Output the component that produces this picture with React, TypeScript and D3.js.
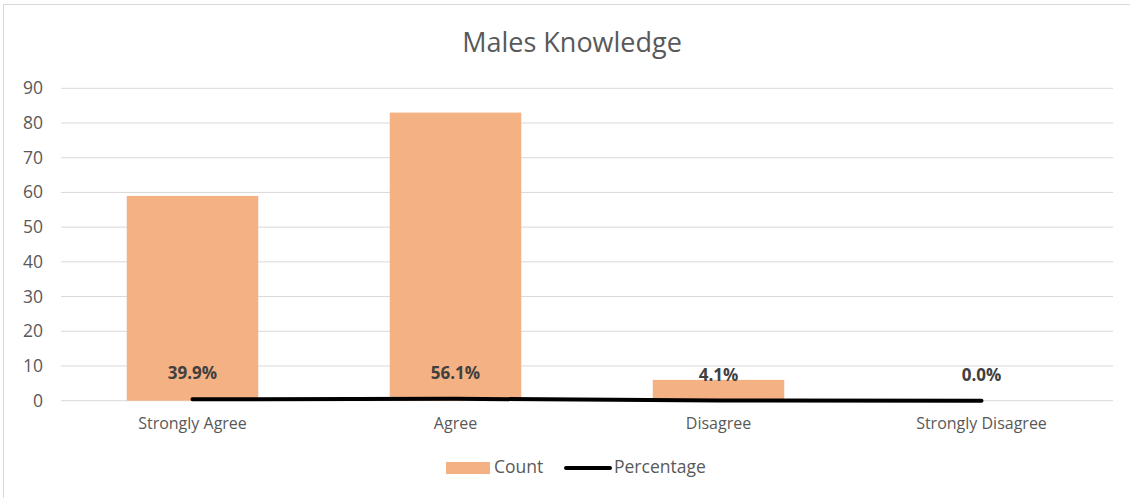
import React from "react";
import * as d3 from "d3";

const categories = ["Strongly Agree", "Agree", "Disagree", "Strongly Disagree"];
const counts = [59, 83, 6, 0];
const percentages = [0.399, 0.561, 0.041, 0.0];
const yTicks = [0, 10, 20, 30, 40, 50, 60, 70, 80, 90];
const title = "Males Knowledge";
const seriesNames = ["Count", "Percentage"];

const W = 1130;
const H = 498;
const FONT = "'Open Sans', sans-serif";

export default function App() {
  const left = 61, right = 1113, top = 88.3, bottom = 400.7;
  const x = d3.scaleBand<string>().domain(categories).range([left, right]).paddingInner(0).paddingOuter(0);
  const y = d3.scaleLinear().domain([0, 90]).range([bottom, top]);
  const barW = x.bandwidth() * 0.5;
  const cx = (c: string) => (x(c) as number) + x.bandwidth() / 2;
  const line = d3.line<number>().x((_, i) => cx(categories[i])).y((d) => y(d));

  return (
    <div style={{ position: "absolute", left: 0, top: 0 }}>
      <svg width={W} height={H} style={{ display: "block", background: "#fff" }}>
        <rect x={3.5} y={4.5} width={W + 10} height={H + 10} fill="#fff" stroke="#d9d9d9" strokeWidth={1} />
        <text x={572} y={52} textAnchor="middle" fontFamily={FONT} fontSize={27} fill="#595959">{title}</text>
        {yTicks.map((t) => (
          <g key={t}>
            <line x1={left} x2={right} y1={y(t)} y2={y(t)} stroke="#d9d9d9" strokeWidth={1} />
            <text x={43} y={y(t) + 6} textAnchor="end" fontFamily={FONT} fontSize={17.5} fill="#595959">{t}</text>
          </g>
        ))}
        {categories.map((c, i) => (
          <rect key={c} x={cx(c) - barW / 2} y={y(counts[i])} width={barW} height={y(0) - y(counts[i])} fill="#F4B183" />
        ))}
        <path d={line(percentages) || ""} fill="none" stroke="#000" strokeWidth={4} strokeLinecap="round" strokeLinejoin="round" />
        {categories.map((c, i) => (
          <text key={c} x={cx(c)} y={y(percentages[i]) - 20} textAnchor="middle" fontFamily={FONT} fontWeight="bold" fontSize={17} fill="#404040">
            {(percentages[i] * 100).toFixed(1) + "%"}
          </text>
        ))}
        {categories.map((c) => (
          <text key={c} x={cx(c)} y={429} textAnchor="middle" fontFamily={FONT} fontSize={16} fill="#595959">{c}</text>
        ))}
        <rect x={446} y={462} width={44} height={12} fill="#F4B183" />
        <text x={494} y={473} fontFamily={FONT} fontSize={17.5} fill="#595959">{seriesNames[0]}</text>
        <line x1={566} x2={610} y1={468} y2={468} stroke="#000" strokeWidth={4} strokeLinecap="round" />
        <text x={614} y={473} fontFamily={FONT} fontSize={17.5} fill="#595959">{seriesNames[1]}</text>
      </svg>
    </div>
  );
}
